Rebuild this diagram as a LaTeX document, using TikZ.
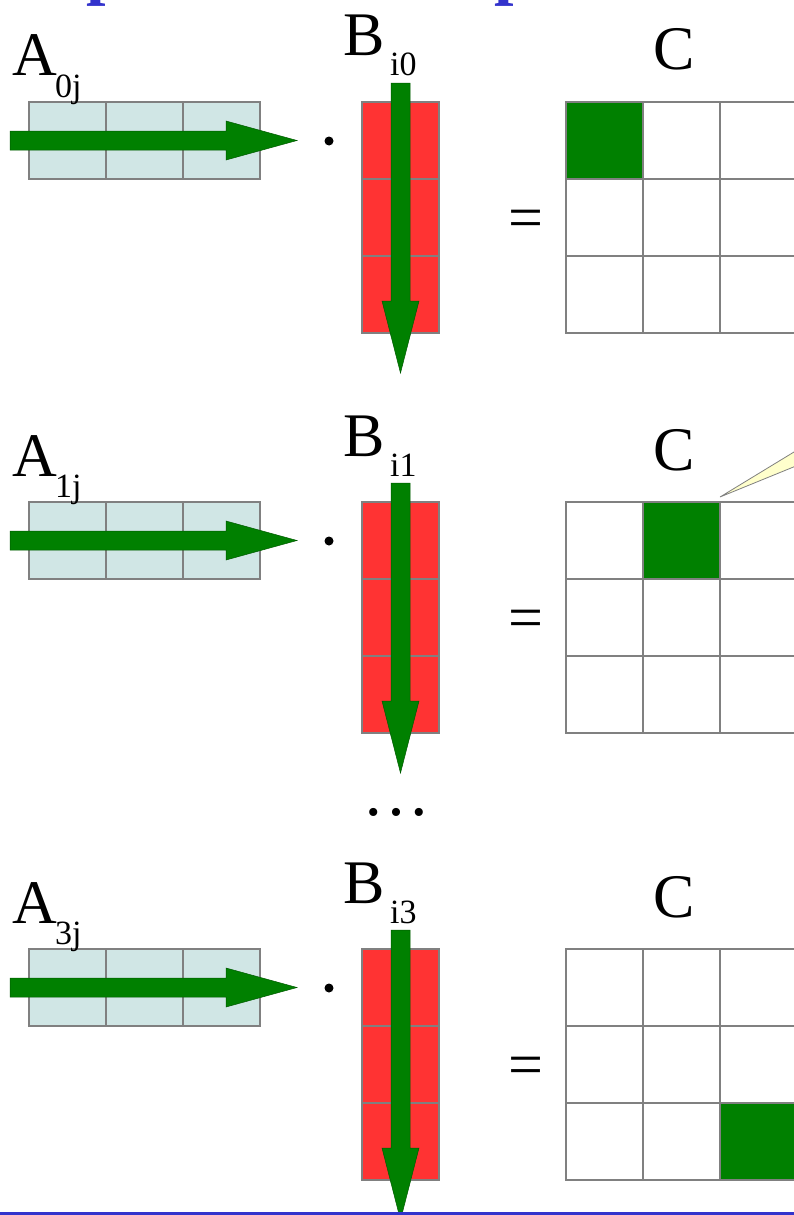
\documentclass[tikz,border=0pt]{standalone}
\usepackage{fontspec}
\setmainfont{Liberation Serif}
\definecolor{cellA}{RGB}{208,230,229}
\definecolor{cellB}{RGB}{255,51,51}
\definecolor{grn}{RGB}{0,128,0}
\definecolor{gridc}{RGB}{128,128,128}
\definecolor{ttl}{RGB}{51,51,204}
\definecolor{note}{RGB}{255,255,204}
\tikzset{
  cellbox/.style={draw=gridc, line width=1.8pt},
  bigtxt/.style={inner sep=0pt, anchor=base west, font=\fontsize{62}{70}\selectfont},
  subtxt/.style={inner sep=0pt, anchor=base west, font=\fontsize{34}{38}\selectfont},
  arrowshape/.style={fill=grn, draw=grn!70!black, line width=0.5pt},
}
\begin{document}
\begin{tikzpicture}[x=1pt,y=-1pt]
\useasboundingbox (0,0) rectangle (794,1215);
% cut-off title letters
\node[inner sep=0pt, anchor=south west, text=ttl, font=\fontsize{70}{76}\selectfont\bfseries] (t1) at (86,7) {p};
\node[inner sep=0pt, anchor=south west, text=ttl, font=\fontsize{70}{76}\selectfont\bfseries] (t2) at (494,7) {p};
\foreach \dy/\rr/\gc/\gr [count=\n] in {0/0/0/0, 400/1/1/0, 847/3/2/2} {
  \begin{scope}[yshift=-\dy pt]
    % A row vector
    \foreach \i in {0,1,2}
      \draw[cellbox, fill=cellA] (29+77*\i,102) rectangle ++(77,77);
    \fill[arrowshape] (10,131) -- (226,131) -- (226,121) -- (297,140.5)
      -- (226,160) -- (226,150) -- (10,150) -- cycle;
    \node[bigtxt] (A\n) at (12,76) {A};
    \node[subtxt] (As\n) at (55,97) {\rr j};
    % dot
    \node[circle, fill=black, inner sep=0pt, minimum size=9pt] (dot\n) at (329,141) {};
    % B column vector
    \foreach \j in {0,1,2}
      \draw[cellbox, fill=cellB] (362,102+77*\j) rectangle ++(77,77);
    \fill[arrowshape] (391,83) -- (410,83) -- (410,301) -- (419,301) -- (400.5,373)
      -- (382,301) -- (391,301) -- cycle;
    \node[bigtxt] (B\n) at (343,56) {B};
    \node[subtxt] (Bs\n) at (390,76) {i\rr};
    % equals
    \node[inner sep=0pt, font=\fontsize{62}{70}\selectfont] (eq\n) at (525.5,224) {=};
    % C matrix
    \node[bigtxt, anchor=base] (C\n) at (674,70) {C};
    \foreach \i in {0,1,2}
      \foreach \j in {0,1,2}
        \draw[cellbox, fill=white] (566+77*\i,102+77*\j) rectangle ++(77,77);
    \draw[cellbox, fill=grn] (566+77*\gc,102+77*\gr) rectangle ++(77,77);
  \end{scope}
}
% callout pointer
\draw[draw=gridc, line width=0.8pt, fill=note] (720,497) -- (840,424) -- (840,448) -- cycle;
% ellipsis
\node[inner sep=0pt, font=\fontsize{68}{74}\selectfont] (dots) at (396,812) {…};
% bottom rule
\coordinate (r1) at (0,1213.5);
\coordinate (r2) at (794,1213.5);
\draw[ttl, line width=3pt] (r1) -- (r2);
\end{tikzpicture}
\end{document}
